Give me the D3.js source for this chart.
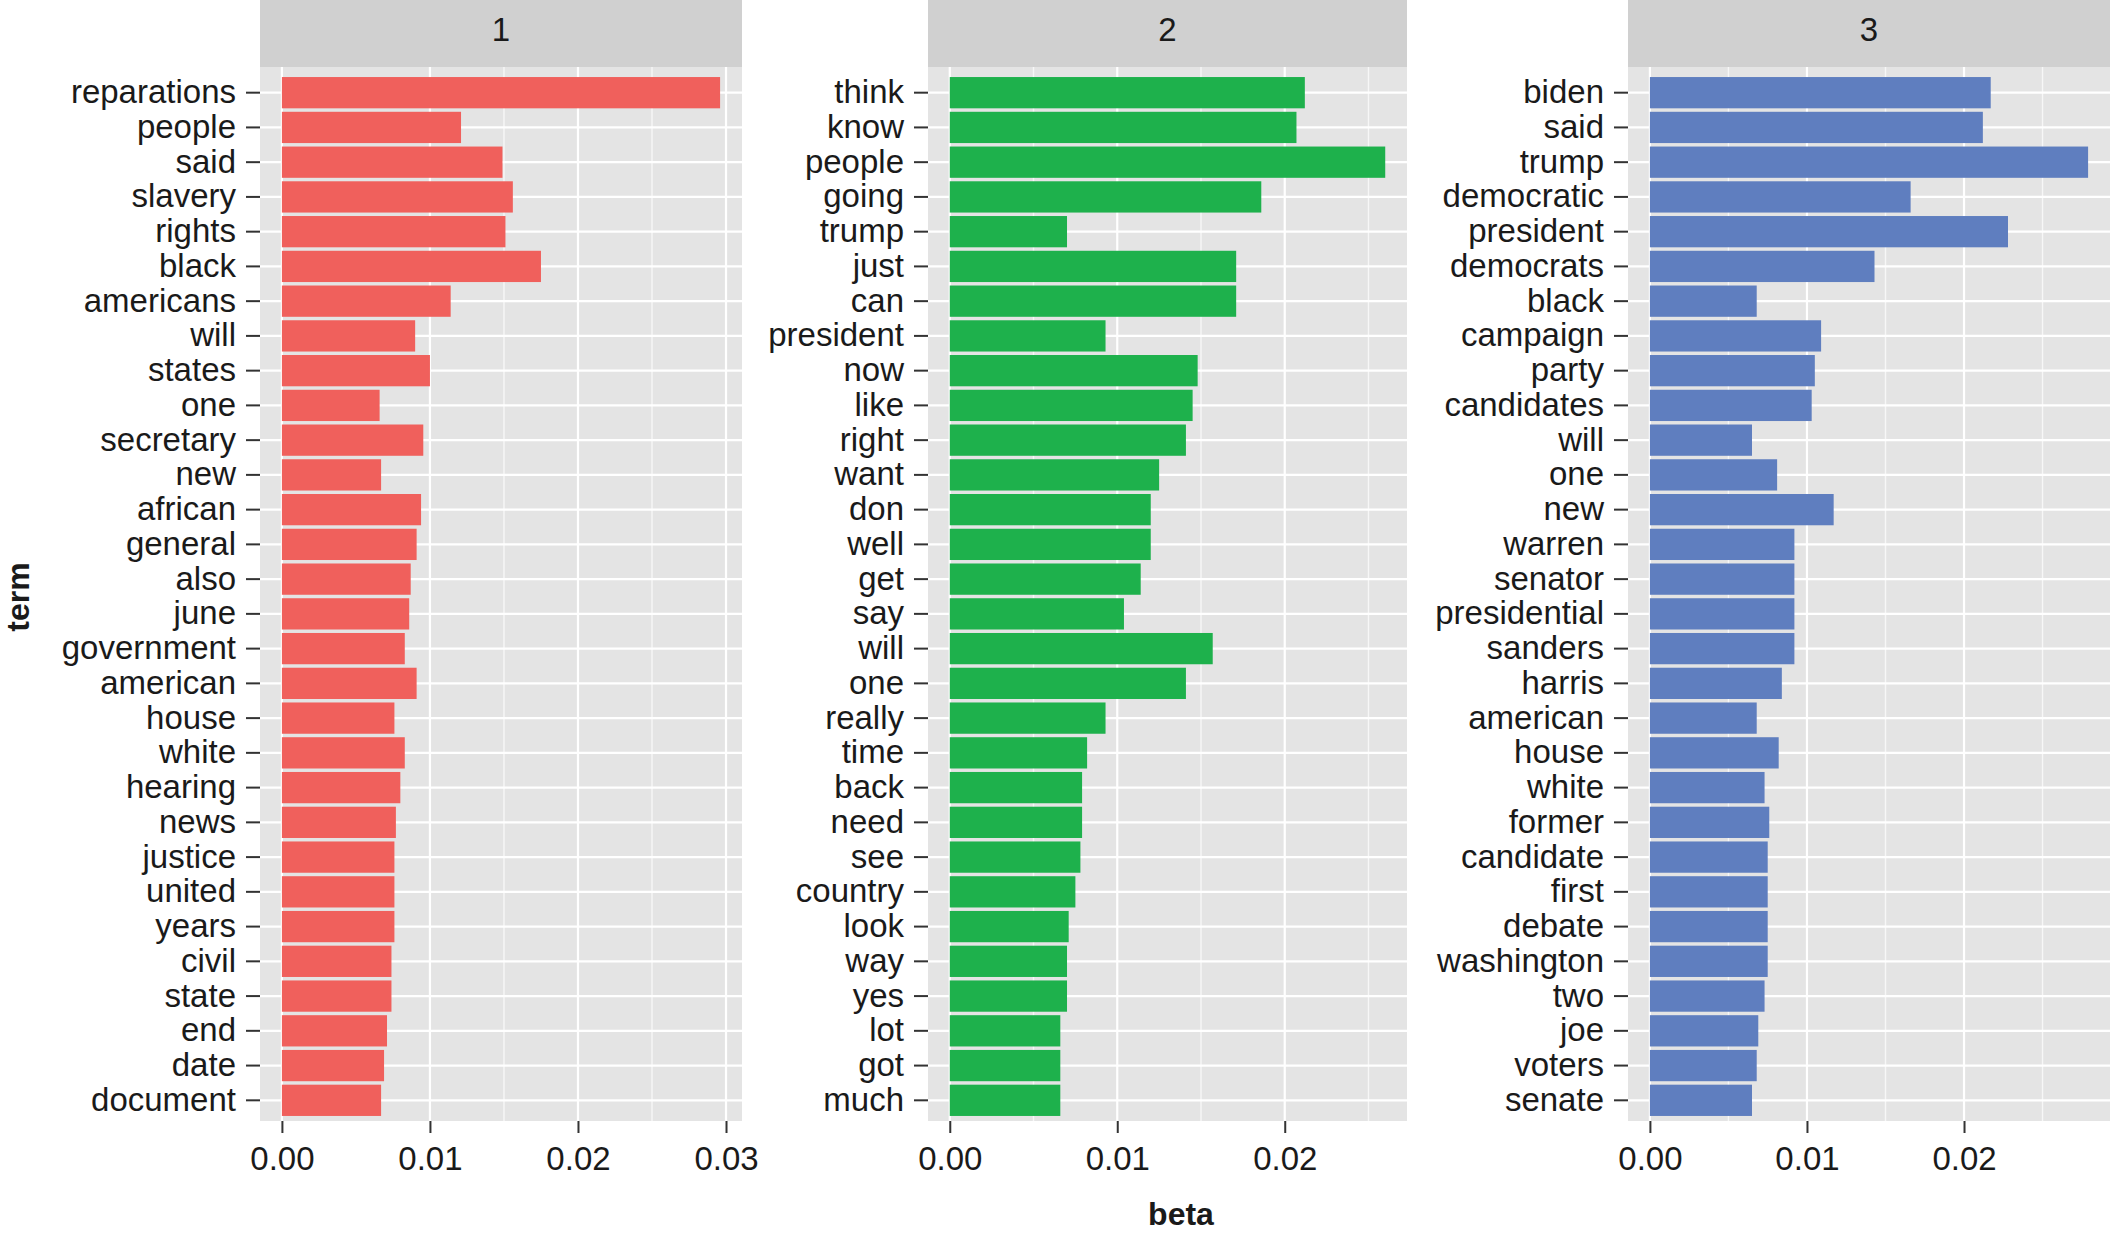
<!DOCTYPE html>
<html>
<head>
<meta charset="utf-8">
<script src="https://cdn.jsdelivr.net/npm/d3@7"></script>
<style>
	body { margin: 0; background: #fff; }
	svg text { font-family: 'Liberation Sans', Arial, Helvetica, sans-serif; fill: #1a1a1a; }
	.label { font-size: 33px; }
	.title { font-size: 32px; font-weight: bold; }
</style>
</head>
<body>
<div id="chart"><svg width="2111" height="1233"></svg></div>
<script>

// topics (facet strips)
var topics = ['1', '2', '3'];

// topic 1
var terms1 = ['reparations', 'people', 'said', 'slavery', 'rights', 'black', 'americans', 'will', 'states', 'one',
	'secretary', 'new', 'african', 'general', 'also', 'june', 'government', 'american', 'house', 'white',
	'hearing', 'news', 'justice', 'united', 'years', 'civil', 'state', 'end', 'date', 'document'];
var beta1 = [0.0296, 0.0121, 0.0149, 0.0156, 0.0151, 0.0175, 0.0114, 0.0090, 0.0100, 0.0066,
	0.00955, 0.0067, 0.0094, 0.0091, 0.0087, 0.0086, 0.0083, 0.0091, 0.0076, 0.0083,
	0.0080, 0.0077, 0.0076, 0.0076, 0.0076, 0.0074, 0.0074, 0.0071, 0.0069, 0.0067];

// topic 2
var terms2 = ['think', 'know', 'people', 'going', 'trump', 'just', 'can', 'president', 'now', 'like',
	'right', 'want', 'don', 'well', 'get', 'say', 'will', 'one', 'really', 'time',
	'back', 'need', 'see', 'country', 'look', 'way', 'yes', 'lot', 'got', 'much'];
var beta2 = [0.0212, 0.0207, 0.0260, 0.0186, 0.0070, 0.0171, 0.0171, 0.0093, 0.0148, 0.0145,
	0.0141, 0.0125, 0.0120, 0.0120, 0.0114, 0.0104, 0.0157, 0.0141, 0.0093, 0.0082,
	0.0079, 0.0079, 0.0078, 0.0075, 0.0071, 0.0070, 0.0070, 0.0066, 0.0066, 0.0066];

// topic 3
var terms3 = ['biden', 'said', 'trump', 'democratic', 'president', 'democrats', 'black', 'campaign', 'party', 'candidates',
	'will', 'one', 'new', 'warren', 'senator', 'presidential', 'sanders', 'harris', 'american', 'house',
	'white', 'former', 'candidate', 'first', 'debate', 'washington', 'two', 'joe', 'voters', 'senate'];
var beta3 = [0.0217, 0.0212, 0.0279, 0.0166, 0.0228, 0.0143, 0.0068, 0.0109, 0.0105, 0.0103,
	0.0065, 0.0081, 0.0117, 0.0092, 0.0092, 0.0092, 0.0092, 0.0084, 0.0068, 0.0082,
	0.0073, 0.0076, 0.0075, 0.0075, 0.0075, 0.0075, 0.0073, 0.0069, 0.0068, 0.0065];

// minor grid breaks per panel (panel 1 shows none at 0.005)
var minor1 = [0.015, 0.025];
var minor2 = [0.005, 0.015, 0.025];
var minor3 = [0.005, 0.015, 0.025];

var colors = ['#f0605c', '#1eb14c', '#5f7ebf'];

var chart = {

	settings: {
		stripTop: 0,
		panelTop: 67,
		panelBottom: 1121,
		firstRow: 91,
		lastRow: 1102,
		panelX: [[260, 742], [928, 1407], [1628, 2110]]
	},

	init: function() {

		let self = this;
		let svg = d3.select('#chart svg');

		let panels = [
			{ terms: terms1, beta: beta1, minor: minor1 },
			{ terms: terms2, beta: beta2, minor: minor2 },
			{ terms: terms3, beta: beta3, minor: minor3 }
		];

		panels.forEach(function(p, i) {
			self.drawPanel(svg, p, i);
		});

		// x-axis title
		svg.append('text')
		.attr('class', 'title')
		.attr('x', 1181)
		.attr('y', 1225)
		.attr('text-anchor', 'middle')
		.text('beta');

		// y-axis title
		svg.append('text')
		.attr('class', 'title')
		.attr('transform', 'translate(29,597) rotate(-90)')
		.attr('text-anchor', 'middle')
		.text('term');
	},

	drawPanel: function(svg, p, i) {

		let s = this.settings;
		let x0 = s.panelX[i][0], x1 = s.panelX[i][1];
		let g = svg.append('g').attr('class', 'panel');

		// ggplot style 5% expansion around [0, max]
		let maxB = d3.max(p.beta);
		let pad = maxB * 0.05;
		let x = d3.scaleLinear().domain([-pad, maxB + pad]).range([x0, x1]);

		let step = (s.lastRow - s.firstRow) / (p.terms.length - 1);
		let y = d3.scaleBand().domain(p.terms)
			.range([s.firstRow - step / 2, s.lastRow + step / 2])
			.padding(0.1);

		// strip
		g.append('rect')
		.attr('x', x0).attr('y', s.stripTop)
		.attr('width', x1 - x0).attr('height', s.panelTop - s.stripTop)
		.attr('fill', '#d0d0d0');

		g.append('text')
		.attr('class', 'label')
		.attr('x', (x0 + x1) / 2)
		.attr('y', 41)
		.attr('text-anchor', 'middle')
		.text(topics[i]);

		// panel background
		g.append('rect')
		.attr('x', x0).attr('y', s.panelTop)
		.attr('width', x1 - x0).attr('height', s.panelBottom - s.panelTop)
		.attr('fill', '#e4e4e4');

		let major = x.ticks(4);

		// minor vertical grid
		g.selectAll('line.minor').data(p.minor).enter().append('line')
		.attr('class', 'minor')
		.attr('x1', function(d) { return x(d); })
		.attr('x2', function(d) { return x(d); })
		.attr('y1', s.panelTop).attr('y2', s.panelBottom)
		.attr('stroke', '#f7f7f7').attr('stroke-width', 1.4);

		// major vertical grid
		g.selectAll('line.vmajor').data(major).enter().append('line')
		.attr('class', 'vmajor')
		.attr('x1', function(d) { return x(d); })
		.attr('x2', function(d) { return x(d); })
		.attr('y1', s.panelTop).attr('y2', s.panelBottom)
		.attr('stroke', '#ffffff').attr('stroke-width', 2.2);

		// horizontal grid at each term
		g.selectAll('line.hmajor').data(p.terms).enter().append('line')
		.attr('class', 'hmajor')
		.attr('x1', x0).attr('x2', x1)
		.attr('y1', function(d) { return y(d) + y.bandwidth() / 2; })
		.attr('y2', function(d) { return y(d) + y.bandwidth() / 2; })
		.attr('stroke', '#ffffff').attr('stroke-width', 2.2);

		// bars
		let rows = p.terms.map(function(t, k) { return { term: t, beta: p.beta[k] }; });
		g.selectAll('rect.bar').data(rows).enter().append('rect')
		.attr('class', 'bar')
		.attr('x', x(0))
		.attr('y', function(d) { return y(d.term); })
		.attr('width', function(d) { return x(d.beta) - x(0); })
		.attr('height', y.bandwidth())
		.attr('fill', colors[i]);

		// y axis
		let yAxis = g.append('g')
		.attr('transform', 'translate(' + x0 + ',0)')
		.call(d3.axisLeft(y).tickSize(14).tickPadding(10));
		yAxis.select('.domain').remove();
		yAxis.selectAll('.tick line').attr('stroke', '#333').attr('stroke-width', 2);
		yAxis.selectAll('.tick text').attr('class', 'label').attr('font-size', null).attr('font-family', null).attr('fill', '#1a1a1a');

		// x axis
		let xAxis = g.append('g')
		.attr('transform', 'translate(0,' + s.panelBottom + ')')
		.call(d3.axisBottom(x).tickValues(major).tickSize(12).tickPadding(14).tickFormat(d3.format('.2f')));
		xAxis.select('.domain').remove();
		xAxis.selectAll('.tick line').attr('stroke', '#333').attr('stroke-width', 2);
		xAxis.selectAll('.tick text').attr('class', 'label').attr('font-size', null).attr('font-family', null).attr('fill', '#1a1a1a');
	}
};

chart.init();

</script>
</body>
</html>
